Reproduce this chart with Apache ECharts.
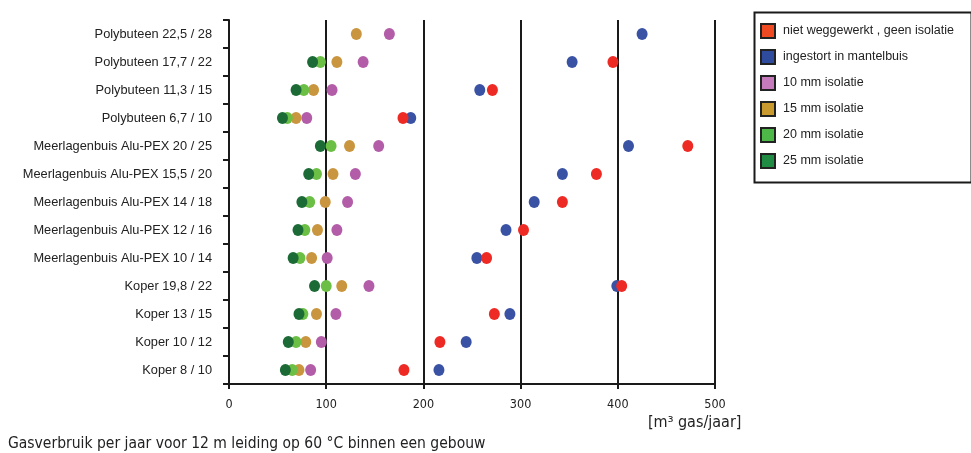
<!DOCTYPE html>
<html>
<head>
<meta charset="utf-8">
<script src="https://cdn.jsdelivr.net/npm/echarts@6/dist/echarts.min.js"></script>
<style>
html,body{margin:0;padding:0;background:#fff;}
#c{width:971px;height:453px;}
</style>
</head>
<body>
<div id="c"></div>
<script>
const categories = [
  'Polybuteen 22,5 / 28',
  'Polybuteen 17,7 / 22',
  'Polybuteen 11,3 / 15',
  'Polybuteen 6,7 / 10',
  'Meerlagenbuis Alu-PEX 20 / 25',
  'Meerlagenbuis Alu-PEX 15,5 / 20',
  'Meerlagenbuis Alu-PEX 14 / 18',
  'Meerlagenbuis Alu-PEX 12 / 16',
  'Meerlagenbuis Alu-PEX 10 / 14',
  'Koper 19,8 / 22',
  'Koper 13 / 15',
  'Koper 10 / 12',
  'Koper 8 / 10'
];
const seriesNames = ['niet weggewerkt , geen isolatie','ingestort in mantelbuis','10 mm isolatie','15 mm isolatie','20 mm isolatie','25 mm isolatie'];
const nietWeggewerkt = [null, 395, 271, 179, 472, 378, 343, 303, 265, 404, 273, 217, 180];
const ingestort      = [425, 353, 258, 187, 411, 343, 314, 285, 255, 399, 289, 244, 216];
const iso10          = [165, 138, 106, 80, 154, 130, 122, 111, 101, 144, 110, 95, 84];
const iso15          = [131, 111, 87, 69, 124, 107, 99, 91, 85, 116, 90, 79, 72];
const iso20          = [null, 94, 77, 60, 105, 90, 83, 78, 73, 100, 76, 69, 65];
const iso25          = [null, 86, 69, 55, 94, 82, 75, 71, 66, 88, 72, 61, 58];
const xTicks = [0, 100, 200, 300, 400, 500];

const dotColors = ['#EE2A24', '#3A52A3', '#B35DA8', '#C9963F', '#6BBF45', '#1C6B37'];
const legendColors = ['#F04A23', '#2F4B9D', '#C57BBB', '#C99A2E', '#4DB848', '#1F8B43'];
const valueSets = [nietWeggewerkt, ingestort, iso10, iso15, iso20, iso25];

function toData(vals){
  const out = [];
  vals.forEach((v,i)=>{ if(v!=null) out.push([v, categories[i]]); });
  return out;
}
// draw order: 10, 15, 20, 25, blue, red
const drawOrder = [2, 3, 4, 5, 1, 0];
const series = drawOrder.map(k => ({
  name: seriesNames[k],
  type: 'scatter',
  symbol: 'circle',
  symbolSize: [11, 12],
  itemStyle: { color: dotColors[k], opacity: 1 },
  data: toData(valueSets[k])
}));

const chart = echarts.init(document.getElementById('c'), null, {renderer:'canvas'});
chart.setOption({
  animation: false,
  backgroundColor: '#fff',
  textStyle: { fontFamily: 'Liberation Sans, Arial, sans-serif' },
  grid: { left: 229, right: 256, top: 20, bottom: 69, containLabel: false },
  xAxis: {
    type: 'value', min: 0, max: 500, interval: 100,
    axisLine: { show: true, lineStyle: { color: '#1a1a1a', width: 2 } },
    axisTick: { show: true, length: 5, lineStyle: { color: '#1a1a1a', width: 2 } },
    splitLine: { show: true, lineStyle: { color: '#1a1a1a', width: 2 } },
    axisLabel: {
      color: '#222', fontSize: 12.5, margin: 14,
      fontFamily: 'DejaVu Sans Condensed, Liberation Sans Narrow, Arial, sans-serif',
      formatter: v => xTicks.indexOf(v) >= 0 ? String(v) : ''
    }
  },
  yAxis: {
    type: 'category', data: categories, inverse: true,
    axisLine: { show: true, lineStyle: { color: '#1a1a1a', width: 2 } },
    axisTick: { show: true, length: 6, interval: 0, lineStyle: { color: '#1a1a1a', width: 2 } },
    splitLine: { show: false },
    axisLabel: { color: '#222', fontSize: 12.8, margin: 17, interval: 0, fontFamily: 'Liberation Sans, Arial, sans-serif' }
  },
  legend: {
    orient: 'vertical', left: 760, top: 23, padding: 0,
    itemWidth: 14, itemHeight: 14, itemGap: 10,
    icon: 'rect',
    textStyle: { color: '#222', fontSize: 12.5, lineHeight: 14, fontFamily: 'Liberation Sans, Arial, sans-serif', padding: [0,0,0,3] },
    data: seriesNames.map((n,k) => ({ name: n, itemStyle: { color: legendColors[k], borderColor: '#222', borderWidth: 2 } }))
  },
  graphic: [
    { type: 'rect', left: 752, top: 10, shape: { width: 217, height: 170 },
      style: { fill: 'none', stroke: '#1a1a1a', lineWidth: 2 }, z: 0 },
    { type: 'text', left: 8, top: 436,
      style: { text: 'Gasverbruik per jaar voor 12 m leiding op 60 °C binnen een gebouw', fill: '#222',
        font: '15.5px "DejaVu Sans Condensed", "Liberation Sans Narrow", Arial, sans-serif' } },
    { type: 'text', left: 648, top: 415,
      style: { text: '[m³ gas/jaar]', fill: '#222',
        font: '16px "DejaVu Sans Condensed", "Liberation Sans Narrow", Arial, sans-serif' } }
  ],
  series: series
});
</script>
</body>
</html>
